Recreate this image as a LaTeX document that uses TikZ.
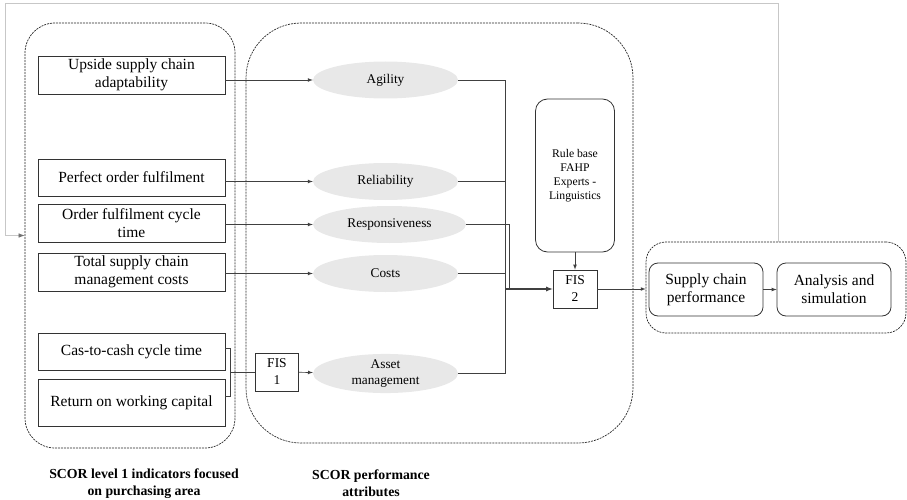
\documentclass[tikz,border=0pt]{standalone}
\usepackage{fontspec}
\setmainfont{Liberation Serif}
\usetikzlibrary{calc}
\usetikzlibrary{positioning}
\usetikzlibrary{shapes.geometric}
\usetikzlibrary{arrows.meta}

\begin{document}
\begin{tikzpicture}[>=latex,x=1pt,y=-1pt,
    grp/.style={draw=black!85,dash pattern=on 2pt off 1pt,line width=0.7pt,inner sep=0pt},
    ind/.style={draw=black!80,line width=0.8pt,minimum width=187pt,inner sep=0pt,align=center,font=\fontsize{15.5}{18}\selectfont},
    attr/.style={ellipse,fill=black!9,minimum width=145pt,minimum height=37pt,inner sep=0pt,align=center,font=\fontsize{13.3}{16}\selectfont},
    fis/.style={draw=black!80,line width=0.8pt,minimum width=43pt,minimum height=38pt,inner sep=0pt,align=center,font=\fontsize{13.5}{17}\selectfont},
    res/.style={draw=black!80,line width=0.8pt,rounded corners=9pt,minimum width=114pt,minimum height=53pt,inner sep=0pt,align=center,font=\fontsize{15.5}{18}\selectfont},
    con/.style={black!75,line width=0.7pt},
    lbl/.style={align=center,font=\bfseries\fontsize{13.8}{17}\selectfont}]
    \useasboundingbox (0,0) rectangle (907,500);

    \node[grp,rounded corners=30pt,minimum width=210pt,minimum height=425pt] (g1) at (130,235.5) {};
    \node[grp,rounded corners=55pt,minimum width=387pt,minimum height=420pt] (g2) at (439.5,233) {};
    \node[grp,rounded corners=20pt,minimum width=260pt,minimum height=91pt] (g3) at (776,287.5) {};

    \node[ind,minimum height=38pt] (up) at (131.5,75) {Upside supply chain\\adaptability};
    \node[ind,minimum height=37pt] (pof) at (131.5,177.5) {Perfect order fulfilment};
    \node[ind,minimum height=38pt] (oft) at (131.5,223) {Order fulfilment cycle\\time};
    \node[ind,minimum height=38pt] (tsc) at (131.5,272) {Total supply chain\\management costs};
    \node[ind,minimum height=37pt] (cas) at (131.5,351.5) {Cas-to-cash cycle time};
    \node[ind,minimum height=47pt] (ret) at (131.5,402.5) {Return on working capital};

    \node[attr] (agi) at (385.5,80) {Agility};
    \node[attr] (rel) at (385.5,181.5) {Reliability};
    \node[attr,minimum width=153pt] (rsp) at (389.5,224.5) {Responsiveness};
    \node[attr] (cst) at (385.5,273.5) {Costs};
    \node[attr] (ast) at (385.5,373.5) {Asset\\management};

    \node[fis] (fis1) at (277,372) {FIS\\1};
    \node[fis,minimum width=44pt] (fis2) at (575,289) {FIS\\2};
    \node[res,rounded corners=12pt,minimum width=79pt,minimum height=153pt,font=\fontsize{11.7}{14}\selectfont] (rule) at (575,175.5) {Rule base\\FAHP\\Experts -\\Linguistics};

    \node[res] (scp) at (706,289.5) {Supply chain\\performance};
    \node[res] (ana) at (834,289.5) {Analysis and\\simulation};

    \node[lbl] (l1) at (144,483.5) {SCOR level 1 indicators focused\\on purchasing area};
    \node[lbl] (l2) at (371,483.5) {SCOR performance\\attributes};

    \coordinate (m) at (505,289);
    \coordinate (m2) at (509,289);
    \coordinate (brk) at (230,372);

    \draw[con,->] (up.east |- agi) -- (agi);
    \draw[con,->] (pof.east |- rel) -- (rel);
    \draw[con,->] (oft.east |- rsp) -- (rsp);
    \draw[con,->] (tsc.east |- cst) -- (cst);
    \draw[con] ([yshift=3.5pt]cas.east) -- ++(5,0) |- ([yshift=6.5pt]ret.east);
    \draw[con] (brk) -- (fis1.west);
    \draw[con,->] (fis1) -- (ast);

    \draw[con] (agi) -- (agi -| m) -- (ast -| m) -- (ast);
    \draw[con] (rel) -- (rel -| m);
    \draw[con] (cst) -- (cst -| m);
    \draw[con] (rsp) -- (rsp -| m2) -- (m2);
    \draw[con,->,line width=1.2pt] (m) -- (fis2);
    \draw[con,->] (rule) -- (fis2);
    \draw[con,->] (fis2) -- (fis2 -| g3.west);
    \draw[con,->] (scp) -- (ana);

    \draw[black!22,line width=0.7pt,-{Latex[color=black!55]}] ([xshift=2pt]g3.north) |- (5,3) |- (g1.west);
\end{tikzpicture}
\end{document}
